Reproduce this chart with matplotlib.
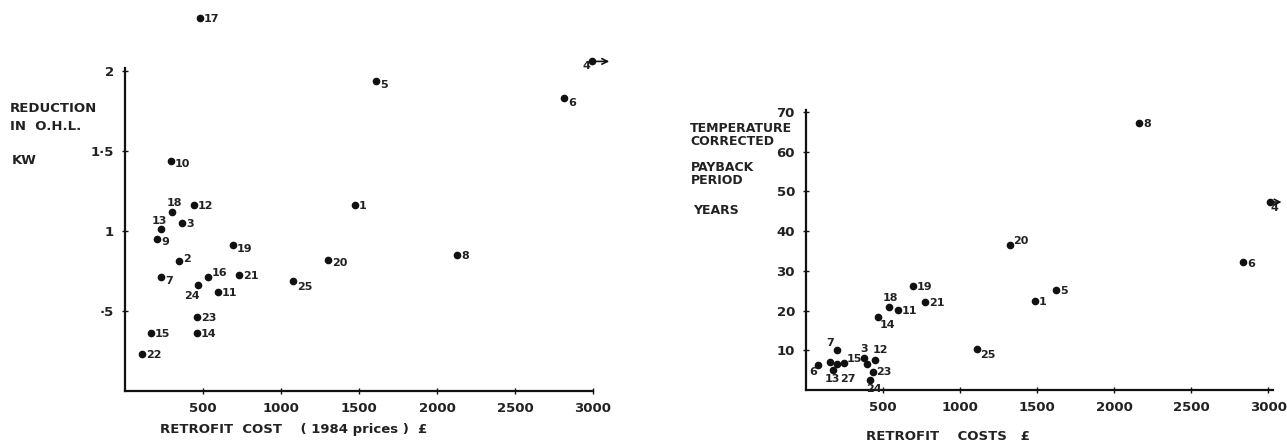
import matplotlib.pyplot as plt

# ---- left chart: reduction in O.H.L. (kW) against retrofit cost (1984 prices)
left_ids = ["17", "5", "10", "18", "12", "3", "13", "9", "2", "19", "7", "16", "21",
            "24", "11", "25", "20", "1", "23", "14", "15", "22", "8", "6", "4"]
left_cost = [481, 1609, 295, 301, 442, 365, 231, 205, 346, 692, 231, 532, 731,
             468, 596, 1077, 1301, 1474, 462, 462, 167, 109, 2128, 2814, 2994]
left_kw = [2.33, 1.94, 1.44, 1.12, 1.16, 1.05, 1.01, 0.95, 0.81, 0.91, 0.71, 0.71, 0.725,
           0.66, 0.62, 0.69, 0.82, 1.16, 0.46, 0.36, 0.36, 0.23, 0.85, 1.83, 2.06]
left_yticks = [0.5, 1, 1.5, 2]
left_yticklabels = ["·5", "1", "1·5", "2"]

# ---- right chart: temperature corrected payback period (years) against retrofit costs
right_ids = ["8", "4", "20", "6", "5", "1", "25", "19", "21", "18", "11", "14", "7",
             "15", "6", "13", "27", "", "3", "", "12", "23", "24"]
right_cost = [2162, 3013, 1325, 2838, 1623, 1487, 1110, 695, 773, 539, 597, 468, 201,
              247, 78, 156, 175, 201, 377, 396, 448, 435, 415]
right_years = [67.3, 47.3, 36.5, 32.2, 25.2, 22.4, 10.3, 26.2, 22.2, 21.0, 20.2, 18.4, 10.1,
               6.8, 6.3, 7.1, 5.0, 6.5, 8.1, 6.5, 7.6, 4.5, 2.5]
right_yticks = [10, 20, 30, 40, 50, 60, 70]

xticks = [500, 1000, 1500, 2000, 2500, 3000]

# label placement (pixel offsets from the dot, by point index), kept apart from the data
left_offsets = {3: (-5, 9), 6: (-9, 8), 13: (-14, -11), 11: (4, 4),
                8: (4, 2), 15: (4, -6), 16: (4, -3), 9: (4, -4),
                10: (4, -4), 7: (4, -3), 1: (4, -4), 2: (4, -3),
                23: (4, -5), 24: (-10, -5)}
right_offsets = {9: (-6, 9), 12: (-11, 7), 13: (3, 4), 14: (-9, -7),
                 15: (-5, -17), 16: (7, -9), 18: (-4, 9), 20: (-2, 10),
                 21: (3, 0), 22: (-4, -9), 11: (2, -8), 6: (3, -6),
                 2: (3, 4), 1: (0, -6), 3: (4, -2)}

fig = plt.figure(figsize=(12.87, 4.45), dpi=100)
ax1 = fig.add_axes([125 / 1287, 1 - 391 / 445, 468 / 1287, 392 / 445])
ax2 = fig.add_axes([806 / 1287, 1 - 390 / 445, 467 / 1287, 298 / 445])

font = dict(family="DejaVu Sans", weight="bold", color="#222222")


def style(ax, top):
    for s in ["top", "right"]:
        ax.spines[s].set_visible(False)
    ax.spines["left"].set_bounds(0, top)
    for s in ["left", "bottom"]:
        ax.spines[s].set_linewidth(1.6)
        ax.spines[s].set_color("#111111")
    ax.tick_params(direction="inout", length=4, width=1, colors="#111111",
                   labelsize=9.5, pad=6)
    for lab in ax.get_xticklabels() + ax.get_yticklabels():
        lab.set_fontweight("bold")
        lab.set_color("#222222")


def scatter(ax, xs, ys, ids, offsets):
    ax.plot(xs, ys, "o", color="#111111", markersize=4.5, clip_on=False)
    for i, (x, y, t) in enumerate(zip(xs, ys, ids)):
        if not t:
            continue
        dx, dy = offsets.get(i, (4, -1))
        ax.annotate(t, (x, y), xytext=(dx, dy), textcoords="offset pixels",
                    ha="left", va="center", fontsize=8, **font)


# left
scatter(ax1, left_cost, left_kw, left_ids, left_offsets)
ax1.annotate("", xy=(left_cost[-1], left_kw[-1]), xytext=(20, 0),
             textcoords="offset pixels", annotation_clip=False,
             arrowprops=dict(arrowstyle="<-", color="#111111", lw=1.2))
ax1.set_xlim(0, 3000)
ax1.set_ylim(0, 2.45)
ax1.set_xticks(xticks)
ax1.set_yticks(left_yticks, left_yticklabels)
style(ax1, 2.02)

# right
scatter(ax2, right_cost, right_years, right_ids, right_offsets)
ax2.annotate("", xy=(right_cost[1], right_years[1]), xytext=(14, 0),
             textcoords="offset pixels", annotation_clip=False,
             arrowprops=dict(arrowstyle="<-", color="#111111", lw=1.2))
ax2.set_xlim(0, 3030)
ax2.set_ylim(0, 75)
ax2.set_xticks(xticks)
ax2.set_yticks(right_yticks)
style(ax2, 70.5)

# axis titles as free text, like the hand lettering
fig.text(10 / 1287, 1 - 118 / 445, "REDUCTION\nIN  O.H.L.", fontsize=9.5,
         linespacing=1.5, va="center", ha="left", **font)
fig.text(12 / 1287, 1 - 160 / 445, "KW", fontsize=9.5, va="center", ha="left", **font)
fig.text(160 / 1287, 1 - 430 / 445, "RETROFIT  COST    ( 1984 prices )  £",
         fontsize=9.5, va="center", ha="left", **font)

fig.text(690 / 1287, 1 - 135 / 445, "TEMPERATURE\nCORRECTED", fontsize=9,
         linespacing=0.95, va="center", ha="left", **font)
fig.text(691 / 1287, 1 - 174 / 445, "PAYBACK\nPERIOD", fontsize=9,
         linespacing=1.05, va="center", ha="left", **font)
fig.text(693 / 1287, 1 - 211 / 445, "YEARS", fontsize=9, va="center", ha="left", **font)
fig.text(866 / 1287, 1 - 436 / 445, "RETROFIT    COSTS   £", fontsize=9.5,
         va="center", ha="left", **font)

fig.savefig("out.png", dpi=100, facecolor="white")
